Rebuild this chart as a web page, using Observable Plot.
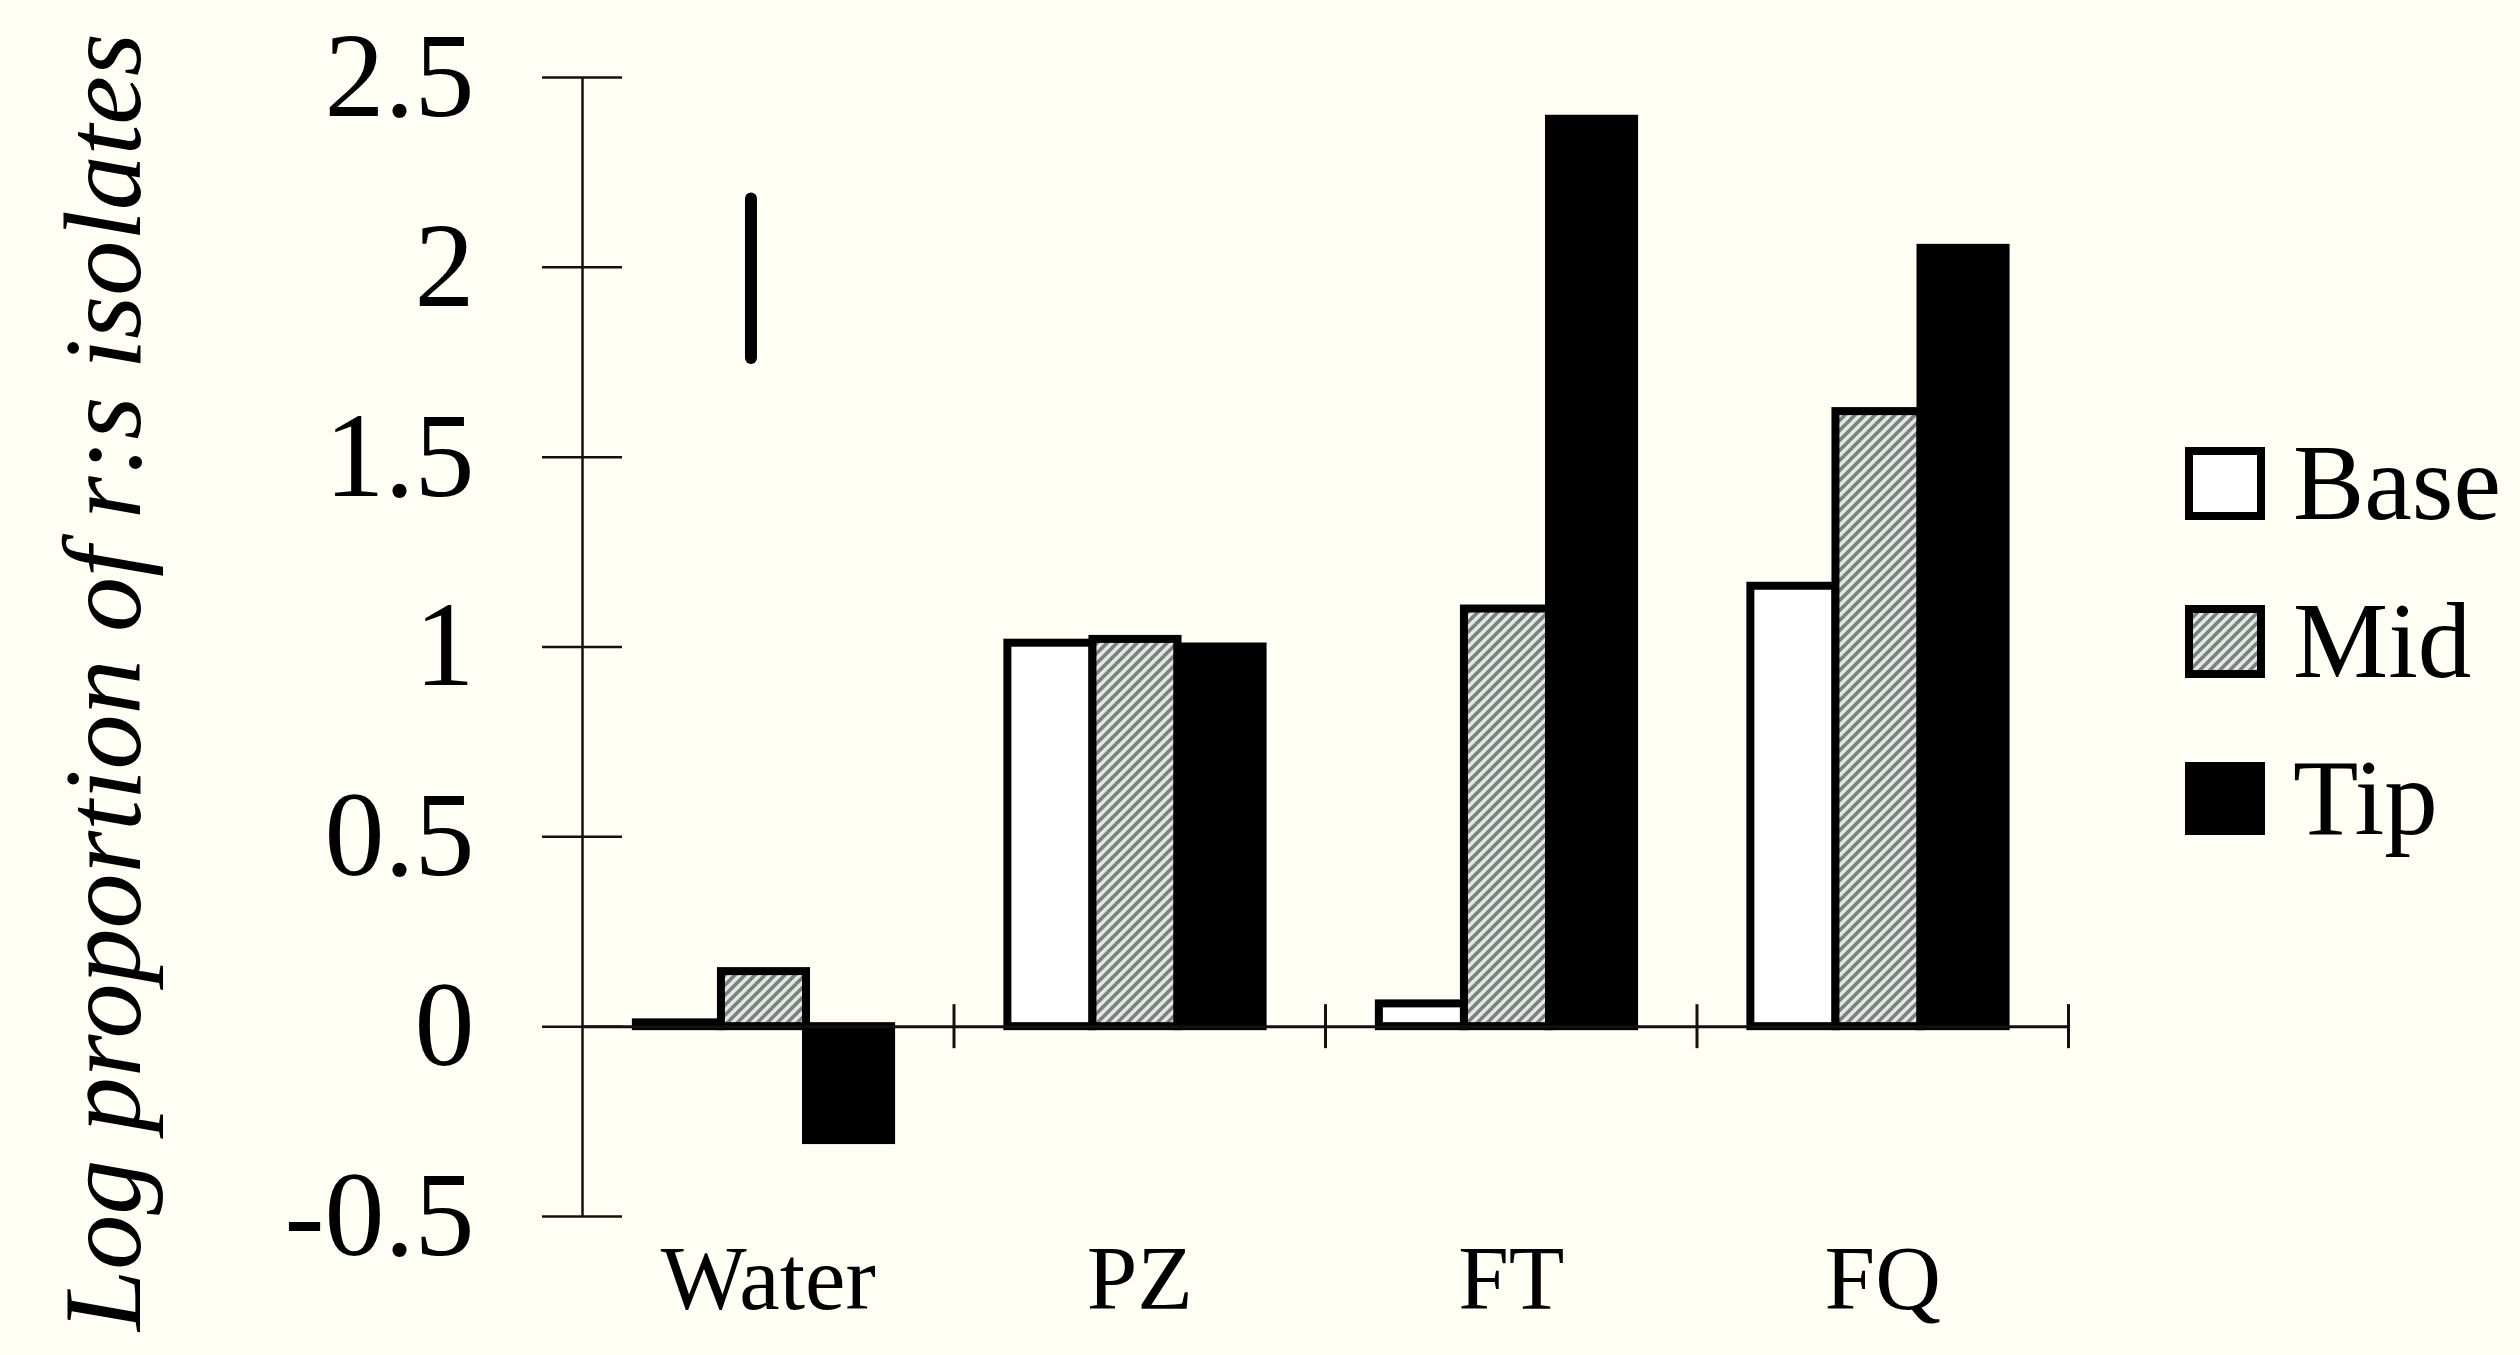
<!DOCTYPE html>
<html>
<head>
<meta charset="utf-8">
<script src="https://cdn.jsdelivr.net/npm/d3@7"></script>
<script src="https://cdn.jsdelivr.net/npm/@observablehq/plot@0.6"></script>
<style>
  html, body { margin: 0; padding: 0; background: #fefef5; }
  #wrap { position: relative; width: 2520px; height: 1355px; font-family: "Liberation Serif", "Times New Roman", serif; }
  #legend { position: absolute; left: 2185px; top: 0; }
  .row { position: absolute; left: 0; display: flex; align-items: center; height: 73px; white-space: nowrap; }
  .row svg { width: 80px; height: 73px; flex: none; display: block; }
  .row span { font-size: 107px; line-height: 73px; margin-left: 28px; color: #000; }
</style>
</head>
<body>
<svg width="0" height="0" style="position:absolute">
  <defs>
    <pattern id="hatch" patternUnits="userSpaceOnUse" width="10" height="10">
      <rect width="10" height="10" fill="#e3e8e5"/>
      <path d="M-2.5,2.5 l5,-5 M0,10 l10,-10 M7.5,12.5 l5,-5" stroke="#7a817e" stroke-width="3.5"/>
    </pattern>
  </defs>
</svg>
<div id="wrap"><div id="legend"></div></div>
<script>
// Log proportion of r:s isolates by treatment and root section
const categories = ["Water", "PZ", "FT", "FQ"];
const series = ["Base", "Mid", "Tip"];
const base = [0.01, 1.01, 0.06, 1.16];
const mid = [0.145, 1.02, 1.10, 1.62];
const tip = [-0.30, 1.00, 2.39, 2.05];
const waterMidRange = [1.76, 2.18];
const yTicks = [-0.5, 0, 0.5, 1, 1.5, 2, 2.5];
const yLabel = "Log proportion of r:s isolates";

const seriesValues = [base, mid, tip];
const fills = {Base: "#ffffff", Mid: "url(#hatch)", Tip: "#000000"};

// each category occupies one unit on x; bars sit side by side inside it
const groupInset = 0.145;
const barWidth = 0.229;

const rows = series.flatMap((s, j) =>
  categories.map((c, i) => ({category: c, i, series: s, j, value: seriesValues[j][i]}))
);

const ink = "#111";

const chart = Plot.plot({
  width: 2520,
  height: 1355,
  marginLeft: 582,
  marginRight: 452,
  marginTop: 77,
  marginBottom: 139,
  style: {background: "transparent", fontFamily: "'Liberation Serif', 'Times New Roman', serif", color: "#000"},
  x: {domain: [0, categories.length], axis: null},
  y: {domain: [-0.5, 2.5], axis: null},
  marks: [
    ...series.map(s => Plot.rect(rows.filter(d => d.series === s), {
      x1: d => d.i + groupInset + d.j * barWidth,
      x2: d => d.i + groupInset + (d.j + 1) * barWidth,
      y1: () => 0,
      y2: d => d.value,
      fill: fills[s],
      stroke: "#000",
      strokeWidth: 8
    })),
    // spread line above the Water / Mid bar
    Plot.ruleX([waterMidRange], {
      x: () => groupInset + 1.5 * barWidth,
      y1: d => d[0],
      y2: d => d[1],
      stroke: "#000",
      strokeWidth: 12,
      strokeLinecap: "round",
      dx: -13
    }),
    // axes
    Plot.ruleX([0], {stroke: ink, strokeWidth: 2.5}),
    Plot.ruleY([0], {stroke: ink, strokeWidth: 3}),
    Plot.ruleY(yTicks, {y: d => d, x1: () => 0, x2: () => 0, insetLeft: -40, insetRight: -40, stroke: ink, strokeWidth: 2.5}),
    Plot.ruleX(d3.range(1, categories.length + 1), {x: d => d, y1: () => 0, y2: () => 0, insetTop: -22, insetBottom: -22, stroke: ink, strokeWidth: 3}),
    Plot.text(yTicks, {x: () => 0, y: d => d, text: d => String(d), textAnchor: "end", dx: -108, fontSize: 120}),
    Plot.text(categories, {x: (d, i) => i + 0.5, text: d => d, frameAnchor: "bottom", lineAnchor: "middle", dy: 63, fontSize: 91}),
    Plot.text([yLabel], {frameAnchor: "left", textAnchor: "middle", lineAnchor: "middle", rotate: -90, dx: -478, dy: 35, fontSize: 110, fontStyle: "italic"})
  ]
});

document.getElementById("wrap").prepend(chart);

// legend
const legend = document.getElementById("legend");
series.forEach((s, k) => {
  const row = document.createElement("div");
  row.className = "row";
  row.style.top = (447 + k * 157.5) + "px";
  row.innerHTML =
    `<svg viewBox="0 0 80 73"><rect x="4" y="4" width="72" height="65" fill="${fills[s]}" stroke="#000" stroke-width="8"/></svg>` +
    `<span>${s}</span>`;
  legend.appendChild(row);
});
</script>
</body>
</html>
